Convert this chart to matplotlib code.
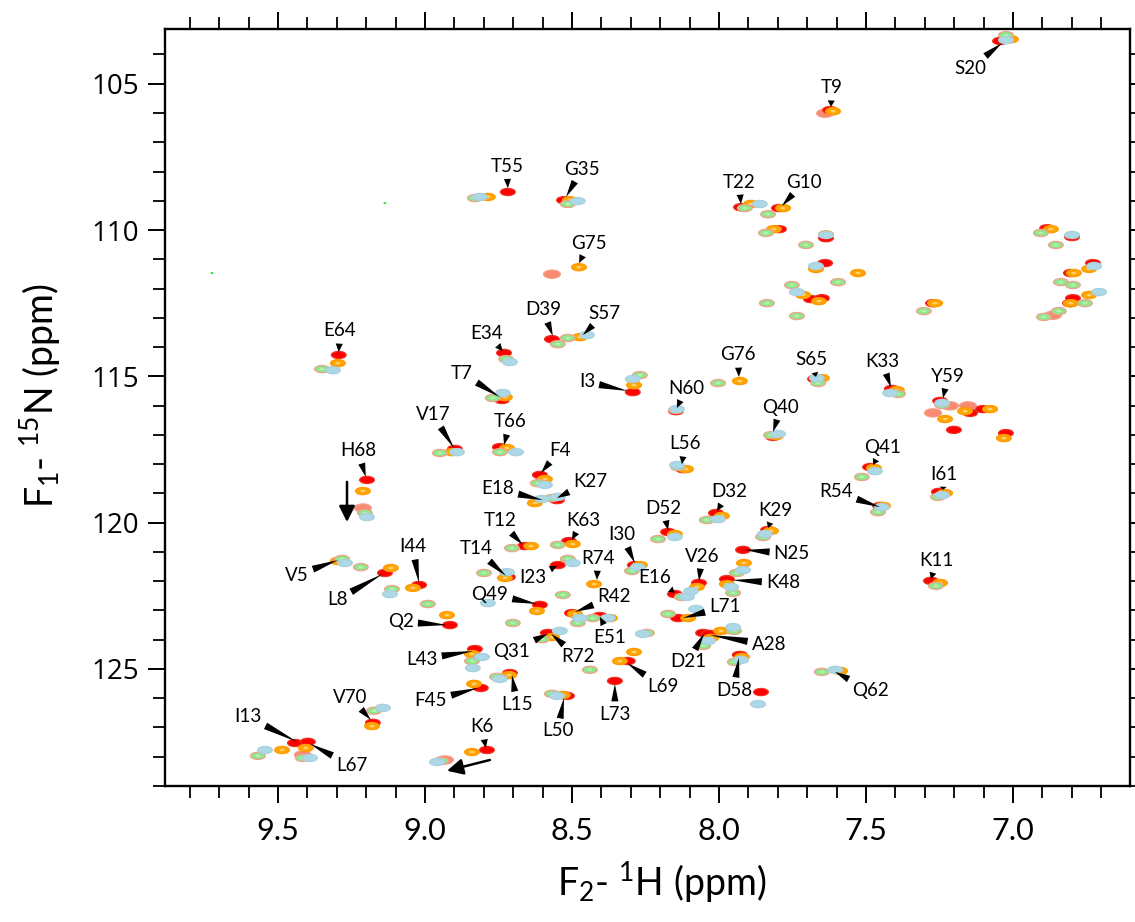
import matplotlib
matplotlib.use('Agg')
import matplotlib.pyplot as plt
from matplotlib.patches import Ellipse
from matplotlib.ticker import MultipleLocator

# ---------------- data (ppm) ----------------
red_h = [7.044, 7.622, 8.718, 8.527, 7.925, 7.796, 7.796, 7.636, 7.639, 7.687, 7.650, 7.272, 6.884, 6.799, 6.728, 6.803, 6.796, 6.806, 8.568, 9.293, 8.731, 8.738, 8.293, 7.673, 7.412, 8.146, 7.248, 7.146, 7.102, 7.201, 7.024, 7.816, 8.898, 8.745, 8.122, 7.486, 9.197, 8.609, 8.551, 7.252, 7.452, 8.010, 8.173, 7.833, 8.660, 8.510, 7.918, 8.286, 8.548, 8.718, 9.136, 9.020, 7.973, 8.068, 7.279, 8.150, 8.609, 8.500, 8.405, 8.139, 8.915, 8.582, 8.054, 8.034, 8.830, 7.929, 8.310, 8.711, 8.354, 8.810, 7.857, 8.517, 9.177, 9.442, 9.398, 8.789]
red_n = [103.54, 105.90, 108.70, 108.98, 109.22, 109.25, 109.97, 110.28, 111.13, 112.36, 112.33, 112.50, 109.94, 110.24, 111.13, 111.47, 112.33, 112.50, 113.73, 114.27, 114.20, 115.81, 115.54, 115.09, 115.43, 116.19, 115.84, 116.25, 116.12, 116.83, 116.94, 117.07, 117.48, 117.42, 118.17, 118.10, 118.54, 118.37, 119.23, 118.95, 119.43, 119.67, 120.32, 120.25, 120.80, 120.63, 120.93, 121.45, 121.45, 121.86, 121.72, 122.13, 121.93, 122.06, 121.99, 122.44, 122.81, 123.09, 123.19, 123.26, 123.50, 123.77, 123.77, 123.80, 124.32, 124.52, 124.73, 125.14, 125.41, 125.65, 125.79, 125.92, 126.84, 127.53, 127.49, 127.77]

orange_h = [7.007, 7.612, 8.786, 8.507, 7.891, 7.782, 7.813, 7.636, 7.670, 7.527, 7.714, 7.660, 7.265, 6.871, 6.741, 6.793, 6.741, 6.803, 8.476, 8.473, 9.296, 8.728, 8.289, 7.929, 7.650, 7.395, 7.231, 7.163, 7.078, 7.031, 7.806, 8.908, 8.721, 8.112, 7.473, 9.211, 8.592, 8.626, 7.231, 7.442, 7.990, 8.150, 7.823, 8.639, 8.497, 7.915, 8.269, 8.425, 8.728, 9.116, 9.296, 9.041, 7.973, 8.075, 7.248, 8.619, 8.490, 8.371, 8.925, 8.105, 8.027, 7.993, 8.568, 8.840, 7.922, 8.289, 8.337, 8.714, 8.833, 8.531, 7.588, 9.180, 9.405, 9.486, 8.840]
orange_n = [103.48, 105.94, 108.87, 108.98, 109.11, 109.25, 109.97, 110.15, 111.33, 111.47, 112.22, 112.43, 112.50, 109.97, 111.33, 111.47, 112.22, 112.50, 111.27, 113.66, 114.55, 115.71, 115.30, 115.16, 115.06, 115.47, 116.46, 116.19, 116.12, 117.11, 117.04, 117.59, 117.45, 118.17, 118.13, 118.92, 118.51, 119.33, 118.99, 119.43, 119.77, 120.39, 120.28, 120.80, 120.73, 121.38, 121.45, 122.10, 121.89, 121.55, 121.31, 122.23, 122.10, 122.20, 122.06, 123.02, 123.12, 123.26, 123.16, 123.26, 123.94, 123.70, 123.91, 124.49, 124.59, 124.42, 124.73, 125.21, 125.51, 125.89, 125.07, 126.95, 127.70, 127.77, 127.84]

green_h = [7.024, 8.830, 8.514, 7.912, 7.833, 7.840, 7.704, 7.595, 7.752, 7.837, 7.735, 7.303, 6.905, 6.854, 6.837, 6.796, 6.755, 6.844, 6.895, 8.548, 8.514, 9.350, 8.724, 8.769, 8.269, 8.003, 7.663, 7.391, 8.146, 7.241, 7.823, 8.949, 8.745, 8.139, 7.514, 9.204, 8.616, 8.568, 7.255, 7.459, 8.041, 8.207, 7.850, 8.704, 8.548, 7.939, 8.296, 8.514, 8.799, 9.282, 9.218, 9.112, 8.990, 7.952, 7.262, 8.126, 8.531, 8.429, 8.480, 8.701, 8.173, 8.245, 8.054, 7.949, 8.602, 8.840, 7.946, 8.439, 8.755, 8.568, 7.650, 9.173, 9.568, 9.415, 8.945]
green_n = [103.34, 108.91, 109.11, 109.25, 109.46, 110.10, 110.51, 111.78, 111.88, 112.50, 112.94, 112.77, 110.10, 110.51, 111.78, 111.88, 112.50, 112.77, 112.97, 113.90, 113.69, 114.75, 114.41, 115.74, 114.96, 115.23, 115.23, 115.60, 116.15, 115.98, 117.01, 117.62, 117.59, 118.10, 118.44, 119.67, 118.65, 119.16, 119.12, 119.64, 119.91, 120.56, 120.49, 120.87, 120.76, 121.72, 121.65, 121.24, 121.72, 121.24, 121.52, 122.27, 122.78, 122.40, 122.16, 122.54, 122.47, 123.26, 123.43, 123.43, 123.12, 123.77, 124.21, 123.70, 123.98, 124.73, 124.76, 125.03, 125.27, 125.85, 125.10, 126.43, 127.97, 128.04, 128.14]

blue_h = [7.024, 8.813, 8.480, 7.861, 7.636, 7.670, 7.735, 6.799, 6.724, 6.707, 8.449, 9.313, 8.711, 8.735, 8.293, 7.667, 7.418, 8.143, 7.241, 7.799, 8.891, 8.690, 8.143, 7.469, 9.197, 8.592, 8.602, 8.548, 7.241, 7.446, 8.003, 8.150, 7.844, 7.918, 8.276, 8.497, 8.721, 9.272, 9.119, 7.959, 8.109, 8.095, 8.786, 8.473, 8.378, 8.078, 8.037, 7.952, 8.541, 8.259, 8.806, 8.837, 7.925, 7.867, 8.745, 8.551, 7.605, 9.143, 9.544, 9.391, 8.959]
blue_n = [103.51, 108.87, 109.01, 109.11, 110.17, 111.23, 112.12, 110.17, 111.23, 112.12, 113.59, 114.79, 114.51, 115.57, 115.09, 115.06, 115.57, 116.12, 115.91, 116.97, 117.59, 117.59, 118.03, 118.24, 119.81, 118.71, 119.19, 119.12, 119.06, 119.47, 119.88, 120.49, 120.39, 121.62, 121.52, 121.38, 121.69, 121.38, 122.44, 122.20, 122.54, 122.34, 122.75, 123.26, 123.26, 122.95, 124.04, 123.57, 123.70, 123.80, 124.59, 124.97, 124.69, 126.20, 125.34, 125.92, 125.03, 126.33, 127.77, 128.04, 128.18]

salmon_h = [7.639, 8.568, 6.864, 7.214, 7.272, 7.153, 9.211, 8.932, 9.415]
salmon_n = [106.01, 111.51, 112.91, 116.01, 116.25, 116.01, 119.50, 128.11, 127.94]

noise_h = [9.136, 9.724]
noise_n = [109.08, 111.47]

label_names = ["S20", "T9", "T55", "G35", "T22", "G10", "G75", "D39", "S57", "E64",
               "E34", "T7", "I3", "G76", "N60", "S65", "K33", "Y59", "Q40", "V17",
               "T66", "L56", "Q41", "H68", "F4", "I61", "E18", "K27", "R54", "D32",
               "D52", "K29", "T12", "K63", "I30", "N25", "V26", "T14", "I44", "V5",
               "L8", "I23", "R74", "E16", "K48", "K11", "Q49", "R42", "E51", "L71",
               "Q2", "Q31", "R72", "D21", "A28", "L43", "D58", "L69", "Q62", "L15",
               "F45", "L73", "L50", "V70", "I13", "L67", "K6"]
label_tip_h = [7.037, 7.619, 8.718, 8.520, 7.925, 7.786, 8.476, 8.565, 8.463, 9.293,
               8.735, 8.745, 8.310, 7.932, 8.143, 7.670, 7.415, 7.238, 7.816, 8.901,
               8.731, 8.126, 7.476, 9.201, 8.605, 7.238, 8.599, 8.551, 7.452, 8.007,
               8.173, 7.833, 8.667, 8.500, 8.286, 7.912, 8.068, 8.724, 9.020, 9.296,
               9.143, 8.551, 8.415, 8.150, 7.956, 7.279, 8.619, 8.490, 8.405, 8.122,
               8.925, 8.582, 8.571, 8.051, 8.031, 8.837, 7.932, 8.313, 7.605, 8.704,
               8.820, 8.354, 8.527, 9.184, 9.435, 9.391, 8.793]
label_tip_n = [103.61, 105.79, 108.57, 108.87, 109.11, 109.18, 111.13, 113.62, 113.59, 114.17,
               114.14, 115.71, 115.50, 115.02, 116.08, 115.02, 115.37, 115.74, 116.90, 117.45,
               117.35, 118.00, 118.03, 118.44, 118.30, 118.88, 119.23, 119.16, 119.47, 119.60,
               120.25, 120.18, 120.76, 120.59, 121.38, 120.93, 121.99, 121.82, 122.06, 121.28,
               121.75, 121.48, 121.96, 122.40, 121.96, 121.93, 122.78, 123.05, 123.22, 123.26,
               123.50, 123.80, 123.80, 123.80, 123.84, 124.39, 124.62, 124.80, 125.10, 125.21,
               125.65, 125.51, 125.99, 126.74, 127.49, 127.56, 127.70]
label_txt_h = [7.146, 7.616, 8.721, 8.466, 7.932, 7.711, 8.442, 8.599, 8.388, 9.289,
               8.789, 8.874, 8.449, 7.935, 8.112, 7.684, 7.446, 7.221, 7.789, 8.973,
               8.711, 8.116, 7.442, 9.228, 8.541, 7.235, 8.752, 8.439, 7.602, 7.966,
               8.190, 7.810, 8.745, 8.463, 8.330, 7.752, 8.058, 8.827, 9.041, 9.435,
               9.299, 8.633, 8.412, 8.218, 7.782, 7.259, 8.779, 8.357, 8.371, 7.980,
               9.082, 8.704, 8.480, 8.105, 7.830, 9.010, 7.949, 8.190, 7.483, 8.687,
               8.980, 8.354, 8.548, 9.255, 9.602, 9.248, 8.806]
label_txt_n = [104.47, 105.14, 107.82, 107.92, 108.36, 108.36, 110.45, 112.73, 112.84, 113.45,
               113.52, 114.89, 115.19, 114.27, 115.40, 114.44, 114.48, 114.99, 116.05, 116.32,
               116.56, 117.31, 117.42, 117.55, 117.52, 118.34, 118.85, 118.58, 118.95, 118.95,
               119.50, 119.57, 119.94, 119.91, 120.42, 121.07, 121.14, 120.90, 120.83, 121.79,
               122.64, 121.89, 121.21, 121.86, 122.06, 121.28, 122.44, 122.54, 123.91, 122.88,
               123.39, 124.39, 124.59, 124.76, 124.18, 124.66, 125.72, 125.61, 125.75, 126.20,
               126.09, 126.54, 127.12, 125.96, 126.64, 128.31, 126.98]

arrow_start_h = [9.265, 8.779]
arrow_start_n = [118.61, 128.11]
arrow_end_h = [9.265, 8.925]
arrow_end_n = [119.98, 128.48]

x_ticks = [9.5, 9.0, 8.5, 8.0, 7.5, 7.0]
y_ticks = [105, 110, 115, 120, 125]

# ---------------- figure ----------------
plt.rcParams['mathtext.default'] = 'regular'
fig = plt.figure(figsize=(11.35, 9.22), dpi=100)
ax = fig.add_axes([165/1135, 136/922, 965/1135, 757/922])
ax.set_xlim(9.884, 6.602)
ax.set_ylim(129.0, 103.13)

lab_font = ['Lato', 'DejaVu Sans']

PW, PH = 0.05, 0.245


def draw(hs, ns, face, edge, scale=1.0, inner=None, z=2):
    for x, y in zip(hs, ns):
        ax.add_patch(Ellipse((x, y), PW * scale, PH * scale, facecolor=face,
                             edgecolor=edge, lw=0.9, zorder=z))
        if inner is not None:
            ax.add_patch(Ellipse((x, y), PW * scale * 0.35, PH * scale * 0.35,
                                 facecolor=inner, edgecolor='none', zorder=z + 0.05))


draw(salmon_h, salmon_n, '#F88A70', '#F4A08C', scale=1.15, z=2.0)
draw(red_h, red_n, '#FF0000', '#F03020', z=2.1)
draw(orange_h, orange_n, '#FFA500', '#FF9A00', inner='#FFD070', z=2.2)
draw(green_h, green_n, '#90E68A', '#F2A08C', inner='#B8F0B0', z=2.3)
draw(blue_h, blue_n, '#ADD8E6', '#A8D0E0', z=2.4)
draw(noise_h, noise_n, '#40E040', '#40E040', scale=0.12, z=2.5)

wedge = dict(arrowstyle='wedge,tail_width=0.38,shrink_factor=0.5', color='black',
             shrinkA=1, shrinkB=0, lw=0)
for name, th, tn, xh, xn in zip(label_names, label_tip_h, label_tip_n, label_txt_h, label_txt_n):
    ax.annotate(name, xy=(th, tn), xytext=(xh, xn), textcoords='data',
                ha='center', va='center', fontsize=13.5, family=lab_font,
                arrowprops=wedge, zorder=5)

for sh, sn, eh, en in zip(arrow_start_h, arrow_start_n, arrow_end_h, arrow_end_n):
    ax.annotate('', xy=(eh, en), xytext=(sh, sn),
                arrowprops=dict(arrowstyle='-|>', color='black', lw=1.8,
                                mutation_scale=24, shrinkA=0, shrinkB=0), zorder=5)

# ---------------- axes styling ----------------
ax.xaxis.set_minor_locator(MultipleLocator(0.1))
ax.yaxis.set_minor_locator(MultipleLocator(1))
ax.set_xticks(x_ticks)
ax.set_xticklabels([f"{v:.1f}" for v in x_ticks], family=lab_font, fontsize=22)
ax.set_yticks(y_ticks)
ax.set_yticklabels([str(v) for v in y_ticks], family=['Open Sans', 'DejaVu Sans'], fontsize=20)

ax.tick_params(which='both', direction='out', top=True, right=True,
               labeltop=False, labelright=False)
ax.tick_params(which='major', length=12, width=1.4)
ax.tick_params(which='minor', length=8.5, width=1.3)
ax.tick_params(axis='x', which='major', pad=10)
ax.tick_params(axis='y', which='major', pad=7)
for s in ax.spines.values():
    s.set_linewidth(1.7)

fig.text(662/1135, 1 - 882/922, r'F$_2$- $^1$H (ppm)', ha='center', va='center',
         fontsize=27, family=lab_font)
fig.text(40/1135, 1 - 396/922, r'F$_1$- $^{15}$N (ppm)', ha='center', va='center',
         fontsize=27, family=lab_font, rotation=90)

fig.savefig('out.png', dpi=100)
